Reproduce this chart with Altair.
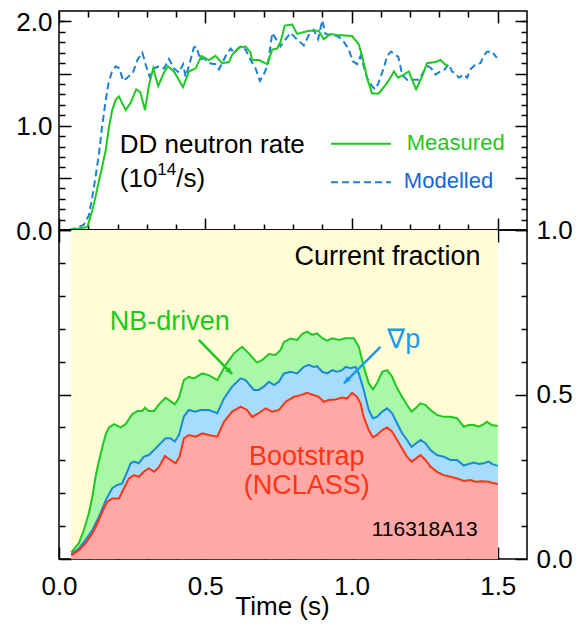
import altair as alt
import pandas as pd

FONT = "Liberation Sans"

# ---------------- data ----------------
# Top panel: DD neutron rate (10^14/s)
t_meas = [0.04, 0.06, 0.097, 0.114, 0.125, 0.137, 0.148, 0.16, 0.171, 0.182, 0.194, 0.205,
          0.228, 0.245, 0.264, 0.278, 0.294, 0.307, 0.322, 0.339, 0.359, 0.372, 0.393, 0.424,
          0.444, 0.467, 0.487, 0.512, 0.535, 0.558, 0.581, 0.592, 0.615, 0.638, 0.655, 0.66,
          0.683, 0.712, 0.729, 0.746, 0.757, 0.772, 0.797, 0.814, 0.854, 0.888, 0.905, 0.928,
          0.951, 1.002, 1.025, 1.036, 1.053, 1.07, 1.093, 1.116, 1.133, 1.145, 1.159, 1.179,
          1.196, 1.207, 1.221, 1.241, 1.258, 1.287, 1.304, 1.319, 1.33]
measured = [0.0, 0.01, 0.03, 0.19, 0.32, 0.48, 0.61, 0.77, 0.99, 1.15, 1.25, 1.28,
            1.15, 1.22, 1.35, 1.32, 1.15, 1.38, 1.55, 1.38, 1.51, 1.57, 1.52, 1.37,
            1.52, 1.55, 1.67, 1.63, 1.67, 1.60, 1.61, 1.68, 1.75, 1.76, 1.70, 1.63,
            1.63, 1.59, 1.73, 1.74, 1.80, 1.96, 1.97, 1.88, 1.91, 1.91, 1.83, 1.88,
            1.87, 1.86, 1.78, 1.67, 1.46, 1.31, 1.31, 1.39, 1.46, 1.52, 1.46, 1.49,
            1.52, 1.44, 1.35, 1.47, 1.60, 1.61, 1.63, 1.59, 1.57]

t_mod = [0.034, 0.06, 0.085, 0.102, 0.114, 0.125, 0.137, 0.146, 0.157, 0.168, 0.18, 0.194,
         0.207, 0.219, 0.233, 0.253, 0.268, 0.285, 0.298, 0.31, 0.325, 0.342, 0.359, 0.376,
         0.393, 0.41, 0.424, 0.433, 0.447, 0.461, 0.469, 0.484, 0.495, 0.512, 0.535, 0.547,
         0.57, 0.587, 0.598, 0.621, 0.638, 0.655, 0.672, 0.687, 0.70, 0.715, 0.729, 0.74,
         0.757, 0.775, 0.792, 0.809, 0.837, 0.854, 0.871, 0.886, 0.90, 0.911, 0.928, 0.951,
         0.968, 0.991, 1.004, 1.019, 1.031, 1.042, 1.053, 1.07, 1.08, 1.091, 1.11, 1.122,
         1.135, 1.15, 1.16, 1.167, 1.173, 1.19, 1.213, 1.23, 1.247, 1.262, 1.273, 1.287,
         1.304, 1.319, 1.332, 1.344, 1.359, 1.367, 1.384, 1.395, 1.407, 1.424, 1.441, 1.452,
         1.463, 1.48, 1.497]
modelled = [0.0, 0.02, 0.05, 0.14, 0.32, 0.51, 0.74, 0.96, 1.19, 1.39, 1.51, 1.57,
            1.55, 1.43, 1.46, 1.51, 1.63, 1.70, 1.57, 1.47, 1.55, 1.57, 1.55, 1.64,
            1.55, 1.51, 1.59, 1.47, 1.60, 1.75, 1.76, 1.63, 1.65, 1.60, 1.59, 1.54,
            1.67, 1.74, 1.70, 1.76, 1.73, 1.63, 1.55, 1.43, 1.49, 1.60, 1.89, 1.84,
            1.76, 1.83, 1.89, 1.84, 1.77, 1.87, 1.92, 1.83, 2.01, 1.88, 1.87, 1.86,
            1.83, 1.73, 1.62, 1.59, 1.67, 1.57, 1.46, 1.38, 1.35, 1.40, 1.55, 1.67,
            1.71, 1.68, 1.66, 1.57, 1.49, 1.44, 1.44, 1.44, 1.52, 1.57, 1.55, 1.49,
            1.52, 1.54, 1.59, 1.52, 1.49, 1.46, 1.49, 1.46, 1.54, 1.59, 1.60, 1.67,
            1.71, 1.71, 1.65]

# Bottom panel: current fractions (cumulative tops of the stacked bands)
t_nb = [0.042, 0.068, 0.085, 0.102, 0.114, 0.125, 0.137, 0.148, 0.16, 0.171, 0.188, 0.211,
        0.228, 0.25, 0.268, 0.285, 0.294, 0.307, 0.325, 0.342, 0.364, 0.381, 0.396, 0.41,
        0.427, 0.444, 0.461, 0.49, 0.512, 0.541, 0.57, 0.598, 0.626, 0.649, 0.677, 0.695,
        0.718, 0.74, 0.757, 0.769, 0.792, 0.814, 0.831, 0.848, 0.866, 0.882, 0.90, 0.917,
        0.934, 0.957, 0.98, 1.008, 1.025, 1.042, 1.059, 1.073, 1.087, 1.105, 1.122, 1.139,
        1.156, 1.173, 1.19, 1.205, 1.219, 1.236, 1.253, 1.27, 1.292, 1.315, 1.338, 1.361,
        1.384, 1.401, 1.418, 1.435, 1.452, 1.463, 1.48, 1.5]
nb_top = [0.02, 0.048, 0.088, 0.139, 0.189, 0.25, 0.30, 0.34, 0.38, 0.40, 0.41, 0.40,
          0.41, 0.44, 0.45, 0.45, 0.46, 0.45, 0.45, 0.47, 0.49, 0.48, 0.47, 0.49,
          0.544, 0.554, 0.549, 0.564, 0.559, 0.544, 0.59, 0.625, 0.645, 0.625, 0.597, 0.605,
          0.623, 0.62, 0.635, 0.66, 0.67, 0.666, 0.684, 0.691, 0.681, 0.686, 0.671, 0.664,
          0.671, 0.666, 0.671, 0.671, 0.645, 0.584, 0.534, 0.516, 0.534, 0.569, 0.574, 0.554,
          0.519, 0.493, 0.468, 0.448, 0.458, 0.473, 0.468, 0.453, 0.438, 0.432, 0.432, 0.428,
          0.402, 0.407, 0.407, 0.402, 0.41, 0.417, 0.407, 0.404]

t_gp = [0.042, 0.068, 0.091, 0.114, 0.137, 0.16, 0.182, 0.199, 0.216, 0.233, 0.245, 0.256,
        0.273, 0.29, 0.307, 0.325, 0.342, 0.364, 0.381, 0.396, 0.41, 0.427, 0.444, 0.467,
        0.484, 0.512, 0.541, 0.564, 0.592, 0.621, 0.638, 0.666, 0.683, 0.70, 0.718, 0.735,
        0.752, 0.769, 0.792, 0.814, 0.837, 0.854, 0.871, 0.882, 0.90, 0.917, 0.934, 0.951,
        0.968, 0.98, 0.997, 1.014, 1.025, 1.042, 1.059, 1.073, 1.087, 1.105, 1.122, 1.139,
        1.156, 1.173, 1.19, 1.205, 1.221, 1.236, 1.253, 1.27, 1.292, 1.315, 1.338, 1.361,
        1.384, 1.401, 1.418, 1.435, 1.452, 1.469, 1.48, 1.5]
gp_top = [0.015, 0.032, 0.058, 0.088, 0.129, 0.179, 0.215, 0.225, 0.23, 0.265, 0.291, 0.296,
          0.291, 0.311, 0.316, 0.331, 0.347, 0.367, 0.367, 0.357, 0.377, 0.433, 0.453, 0.448,
          0.453, 0.453, 0.443, 0.488, 0.524, 0.549, 0.544, 0.514, 0.514, 0.524, 0.539, 0.529,
          0.539, 0.564, 0.569, 0.564, 0.584, 0.59, 0.584, 0.586, 0.569, 0.564, 0.574, 0.569,
          0.574, 0.584, 0.58, 0.584, 0.564, 0.514, 0.453, 0.428, 0.432, 0.448, 0.458, 0.443,
          0.412, 0.382, 0.362, 0.341, 0.352, 0.362, 0.352, 0.331, 0.316, 0.311, 0.301, 0.301,
          0.284, 0.289, 0.293, 0.289, 0.291, 0.296, 0.289, 0.283]

t_bs = [0.042, 0.068, 0.091, 0.114, 0.131, 0.148, 0.165, 0.182, 0.205, 0.222, 0.239, 0.256,
        0.273, 0.29, 0.307, 0.325, 0.342, 0.362, 0.381, 0.399, 0.412, 0.427, 0.444, 0.467,
        0.49, 0.512, 0.541, 0.564, 0.592, 0.621, 0.643, 0.66, 0.683, 0.706, 0.729, 0.752,
        0.775, 0.803, 0.826, 0.848, 0.871, 0.888, 0.905, 0.922, 0.945, 0.968, 0.985, 1.002,
        1.019, 1.031, 1.042, 1.059, 1.073, 1.087, 1.105, 1.122, 1.139, 1.156, 1.173, 1.19,
        1.205, 1.221, 1.236, 1.253, 1.27, 1.292, 1.315, 1.338, 1.361, 1.384, 1.407, 1.424,
        1.446, 1.469, 1.48, 1.5]
bs_top = [0.012, 0.027, 0.048, 0.078, 0.108, 0.144, 0.174, 0.184, 0.184, 0.215, 0.245, 0.255,
          0.25, 0.265, 0.276, 0.265, 0.28, 0.313, 0.301, 0.291, 0.311, 0.367, 0.377, 0.372,
          0.382, 0.377, 0.372, 0.417, 0.448, 0.463, 0.453, 0.432, 0.443, 0.458, 0.448, 0.453,
          0.478, 0.493, 0.498, 0.505, 0.498, 0.493, 0.478, 0.483, 0.485, 0.491, 0.488, 0.505,
          0.493, 0.473, 0.432, 0.392, 0.37, 0.377, 0.392, 0.40, 0.387, 0.362, 0.336, 0.311,
          0.296, 0.306, 0.316, 0.301, 0.281, 0.265, 0.255, 0.25, 0.245, 0.237, 0.24, 0.235,
          0.236, 0.235, 0.232, 0.228]

# shaded time window of the current-fraction panel
window_t = [0.042, 1.5]

# axis tick values
x_minor = [0.1, 0.2, 0.3, 0.4, 0.6, 0.7, 0.8, 0.9, 1.1, 1.2, 1.3, 1.4]
x_major = [0.0, 0.5, 1.0, 1.5]
top_minor = [0.1, 0.2, 0.3, 0.4, 0.6, 0.7, 0.8, 0.9, 1.1, 1.2, 1.3, 1.4, 1.6, 1.7, 1.8, 1.9, 2.0]
top_major = [0.0, 0.5, 1.0, 1.5, 2.0]
bot_minor = [0.1, 0.2, 0.3, 0.4, 0.6, 0.7, 0.8, 0.9]
bot_major = [0.0, 0.5, 1.0]

X_DOMAIN = [0, 1.6]
TOP_DOMAIN = [0, 2.1]
BOT_DOMAIN = [0, 1.0]

W = 468
H_TOP = 219
H_BOT = 329

# colours
GREEN = "#1EC81E"
GREEN_FILL = "#A8F8A8"
BLUE = "#1A8AD8"
BLUE_FILL = "#A8DCFC"
RED = "#FF3412"
RED_FILL = "#FFA8A6"
YELLOW = "#FFFCD6"
MOD_BLUE = "#1A80D8"
MOD_TEXT = "#1466D6"
GRADP = "#1C9BEB"


def xs():
    return alt.Scale(domain=X_DOMAIN, nice=False, zero=False)


def ys(dom):
    return alt.Scale(domain=dom, nice=False, zero=False)


def ax(orient, values, size, **kw):
    opts = dict(orient=orient, values=values, tickSize=size, offset=-size,
                domain=False, grid=False, ticks=True, tickColor="black",
                tickWidth=1.5, labels=False, title=None, labelFlush=False)
    opts.update(kw)
    return alt.Axis(**opts)


LABEL_KW = dict(labels=True, labelFont=FONT, labelFontSize=26, labelColor="black",
                format=".1f")


def enc(field_x, field_y, dom, xaxis, yaxis):
    return dict(
        x=alt.X(f"{field_x}:Q", scale=xs(), axis=xaxis),
        y=alt.Y(f"{field_y}:Q", scale=ys(dom), axis=yaxis),
    )


def text_layer(label, x, y, dom, size, color, align="left"):
    df = pd.DataFrame({"x": [x], "y": [y], "label": [label]})
    return alt.Chart(df).mark_text(font=FONT, fontSize=size, color=color, align=align,
                                   baseline="alphabetic").encode(
        text="label:N", **enc("x", "y", dom, None, None))


# ---------------- top panel ----------------
meas_df = pd.DataFrame({"t": t_meas, "v": measured})
mod_df = pd.DataFrame({"t": t_mod, "v": modelled})

top_left_major = ax("left", top_major, 12, labelPadding=7,
                    labelBaseline="alphabetic", labelOffset=9,
                    labelExpr="datum.value % 1 == 0 ? format(datum.value, '.1f') : ''",
                    **{k: v for k, v in LABEL_KW.items() if k != "format"})

mod_line = alt.Chart(mod_df).mark_line(color=MOD_BLUE, strokeWidth=2, strokeDash=[7, 4]).encode(
    **enc("t", "v", TOP_DOMAIN, ax("bottom", x_major, 12), ax("left", top_minor, 6)))
meas_line = alt.Chart(meas_df).mark_line(color=GREEN, strokeWidth=2).encode(
    **enc("t", "v", TOP_DOMAIN, ax("bottom", x_minor, 6), top_left_major))

# legend samples (data coordinates)
leg_x0 = [0.93, 0.93]
leg_x1 = [1.135, 1.135]
leg_y = [0.827, 0.459]
leg_meas = alt.Chart(pd.DataFrame({"x": [leg_x0[0]], "x2": [leg_x1[0]], "y": [leg_y[0]]})).mark_rule(
    color=GREEN, strokeWidth=2).encode(
    x2="x2:Q", **enc("x", "y", TOP_DOMAIN, ax("top", x_minor, 6), ax("right", top_minor, 6)))
leg_mod = alt.Chart(pd.DataFrame({"x": [leg_x0[1]], "x2": [leg_x1[1]], "y": [leg_y[1]]})).mark_rule(
    color=MOD_BLUE, strokeWidth=2, strokeDash=[7, 4]).encode(
    x2="x2:Q", **enc("x", "y", TOP_DOMAIN, ax("top", x_major, 12), ax("right", top_major, 12)))

top_texts = [
    text_layer("DD neutron rate", 0.208, 0.74, TOP_DOMAIN, 26, "black"),
    text_layer("(10", 0.208, 0.413, TOP_DOMAIN, 26, "black"),
    text_layer("14", 0.336, 0.53, TOP_DOMAIN, 17, "black"),
    text_layer("/s)", 0.401, 0.413, TOP_DOMAIN, 26, "black"),
    text_layer("Measured", 1.189, 0.769, TOP_DOMAIN, 22, GREEN),
    text_layer("Modelled", 1.179, 0.40, TOP_DOMAIN, 22, MOD_TEXT),
]

top = alt.layer(mod_line, meas_line, leg_meas, leg_mod, *top_texts).resolve_axis(
    x="independent", y="independent").properties(width=W, height=H_TOP)

# ---------------- bottom panel ----------------
nb_df = pd.DataFrame({"t": t_nb, "v": nb_top})
gp_df = pd.DataFrame({"t": t_gp, "v": gp_top})
bs_df = pd.DataFrame({"t": t_bs, "v": bs_top})

win_df = pd.DataFrame({"x": [window_t[0]], "x2": [window_t[1]], "y": [BOT_DOMAIN[0]], "y2": [BOT_DOMAIN[1]]})
window = alt.Chart(win_df).mark_rect(color=YELLOW).encode(
    x2="x2:Q", y2="y2:Q",
    **enc("x", "y", BOT_DOMAIN, ax("bottom", x_minor, 6), ax("left", bot_minor, 6)))

x_bottom_major = ax("bottom", x_major, 12, labelPadding=14, title="Time (s)",
                    titleFont=FONT, titleFontSize=26, titleFontWeight="normal",
                    titleColor="black", titleBaseline="alphabetic", titleX=223, titleY=67,
                    **LABEL_KW)
y_right_major = ax("right", bot_major, 12, labelPadding=9, labelBaseline="middle", **LABEL_KW)

nb_area = alt.Chart(nb_df).mark_area(color=GREEN_FILL, opacity=1).encode(
    **enc("t", "v", BOT_DOMAIN, x_bottom_major, ax("left", bot_major, 12)))
gp_area = alt.Chart(gp_df).mark_area(color=BLUE_FILL, opacity=1).encode(
    **enc("t", "v", BOT_DOMAIN, ax("top", x_major, 12), ax("right", bot_minor, 6)))
bs_area = alt.Chart(bs_df).mark_area(color=RED_FILL, opacity=1).encode(
    **enc("t", "v", BOT_DOMAIN, None, y_right_major))

nb_line = alt.Chart(nb_df).mark_line(color=GREEN, strokeWidth=2).encode(**enc("t", "v", BOT_DOMAIN, None, None))
gp_line = alt.Chart(gp_df).mark_line(color=BLUE, strokeWidth=2).encode(**enc("t", "v", BOT_DOMAIN, None, None))
bs_line = alt.Chart(bs_df).mark_line(color=RED, strokeWidth=2).encode(**enc("t", "v", BOT_DOMAIN, None, None))

# annotation arrows (data coordinates): start -> tip
arrow_x0 = [0.478, 1.099]
arrow_y0 = [0.666, 0.645]
arrow_x1 = [0.592, 0.974]
arrow_y1 = [0.562, 0.534]
arrow_angle = [136, 225]
arrow_color = [GREEN, GRADP]
HEAD = "M0,0L-0.42,1L0.42,1Z"

arrows = []
for i in range(2):
    df = pd.DataFrame({"x": [arrow_x0[i]], "y": [arrow_y0[i]], "x2": [arrow_x1[i]], "y2": [arrow_y1[i]]})
    arrows.append(alt.Chart(df).mark_rule(color=arrow_color[i], strokeWidth=2.5).encode(
        x2="x2:Q", y2="y2:Q", **enc("x", "y", BOT_DOMAIN, None, None)))
    hd = pd.DataFrame({"x": [arrow_x1[i]], "y": [arrow_y1[i]]})
    arrows.append(alt.Chart(hd).mark_point(shape=HEAD, filled=True, size=200, opacity=1,
                                           color=arrow_color[i], angle=arrow_angle[i],
                                           strokeWidth=0).encode(
        **enc("x", "y", BOT_DOMAIN, None, None)))

bot_texts = [
    text_layer("Current fraction", 1.123, 0.894, BOT_DOMAIN, 27, "black", "center"),
    text_layer("NB-driven", 0.379, 0.696, BOT_DOMAIN, 27, GREEN, "center"),
    text_layer("∇p", 1.179, 0.641, BOT_DOMAIN, 27, GRADP, "center"),
    text_layer("Bootstrap", 0.847, 0.286, BOT_DOMAIN, 27, RED, "center"),
    text_layer("(NCLASS)", 0.847, 0.198, BOT_DOMAIN, 27, RED, "center"),
    text_layer("116318A13", 1.25, 0.070, BOT_DOMAIN, 21, "black", "center"),
]

bottom = alt.layer(window, nb_area, gp_area, bs_area, nb_line, gp_line, bs_line,
                   *arrows, *bot_texts).resolve_axis(
    x="independent", y="independent").properties(width=W, height=H_BOT)

chart = alt.vconcat(top, bottom, spacing=0, bounds="flush").properties(
    padding={"left": 7, "top": 0, "right": 0, "bottom": 0}
).configure_view(stroke="black", strokeWidth=1.5)

chart.save("out.html", embed_options={"renderer": "svg", "actions": False})
